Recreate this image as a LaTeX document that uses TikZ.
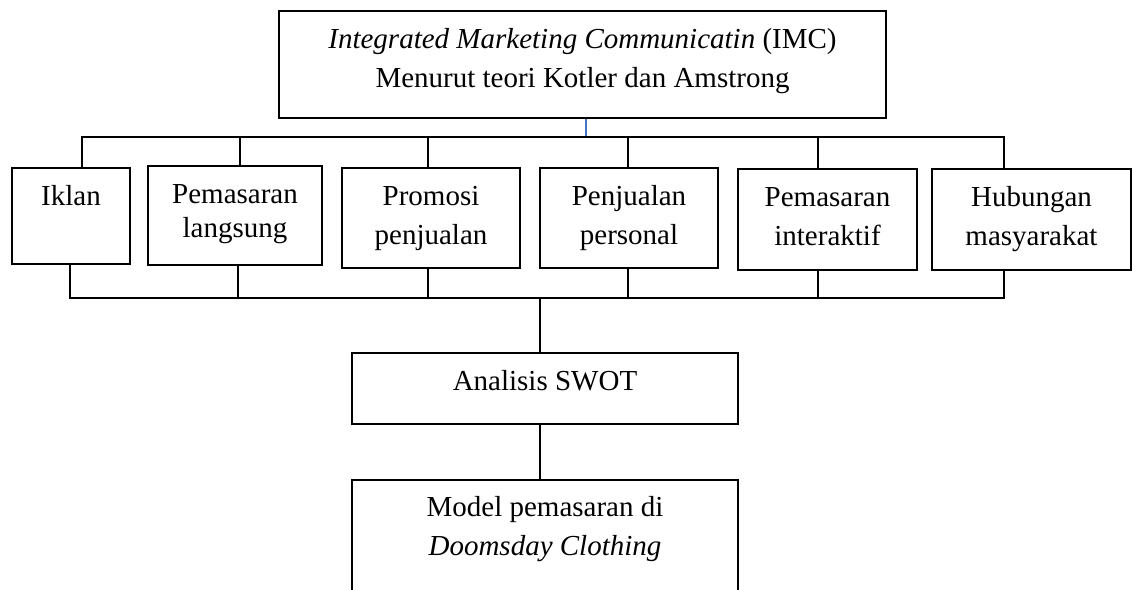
\documentclass[tikz,border=0pt]{standalone}
\usepackage{fontspec}
\setmainfont{Liberation Serif}
\usepackage{tikz}
\usetikzlibrary{positioning}
\definecolor{tapblue}{RGB}{68,114,196}

% text set at the top of a fixed-size box
\newcommand{\boxlabel}[3]{\parbox[c][#2][t]{#1}{\centering\rule{0pt}{37pt}#3}}

\begin{document}
\begin{tikzpicture}[
    x=1pt, y=-1pt,
    font={\fontsize{29}{39}\selectfont},
    stage/.style={draw, line width=1.8pt, inner sep=0pt},
    link/.style={line width=1.8pt},
]
    \useasboundingbox (0,0) rectangle (1132,589);
    \clip (0,0) rectangle (1132,589);

    % Concepts
    \node[stage] (imc) at (582.5,64.5) {\boxlabel{607pt}{107pt}{\textit{Integrated Marketing Communicatin} (IMC)\\ Menurut teori Kotler dan Amstrong}};

    \node[stage] (iklan)      at (71,216)     {\boxlabel{118pt}{96pt}{Iklan}};
    \node[stage] (langsung)   at (235,215.5)  {\boxlabel{174pt}{99pt}{Pemasaran\\[-5pt] langsung}};
    \node[stage] (promosi)    at (431,218)    {\boxlabel{178pt}{100pt}{Promosi\\ penjualan}};
    \node[stage] (personal)   at (629,218)    {\boxlabel{178pt}{100pt}{Penjualan\\ personal}};
    \node[stage] (interaktif) at (827.5,219.5){\boxlabel{179pt}{101pt}{Pemasaran\\ interaktif}};
    \node[stage] (humas)      at (1031.5,219.5){\boxlabel{199pt}{101pt}{Hubungan\\ masyarakat}};

    \node[stage] (swot)  at (545,388.5) {\boxlabel{386pt}{71pt}{Analisis SWOT}};
    \node[stage, anchor=north] (model) at (545,479) {\boxlabel{386pt}{150pt}{Model pemasaran di\\ \textit{Doomsday Clothing}}};

    % Buses
    \coordinate (topbus) at (0,137);
    \coordinate (lowbus) at (0,298);

    % Concept relations
    \draw[tapblue, line width=1.2pt] ([xshift=3.5pt]imc.south) -- ([xshift=3.5pt]imc.south |- topbus);
    \draw[link] ([xshift=11pt]iklan.north) |- ([xshift=-27.5pt]humas.north |- topbus) -- ([xshift=-27.5pt]humas.north);
    \draw[link] ([xshift=5pt]langsung.north) -- ([xshift=5pt]langsung.north |- topbus);
    \draw[link] ([xshift=-3pt]promosi.north) -- ([xshift=-3pt]promosi.north |- topbus);
    \draw[link] ([xshift=-1pt]personal.north) -- ([xshift=-1pt]personal.north |- topbus);
    \draw[link] ([xshift=-9.5pt]interaktif.north) -- ([xshift=-9.5pt]interaktif.north |- topbus);

    \draw[link] ([xshift=-1pt]iklan.south) |- ([xshift=-27.5pt]humas.south |- lowbus) -- ([xshift=-27.5pt]humas.south);
    \draw[link] ([xshift=3pt]langsung.south) -- ([xshift=3pt]langsung.south |- lowbus);
    \draw[link] ([xshift=-3pt]promosi.south) -- ([xshift=-3pt]promosi.south |- lowbus);
    \draw[link] ([xshift=-1pt]personal.south) -- ([xshift=-1pt]personal.south |- lowbus);
    \draw[link] ([xshift=-9.5pt]interaktif.south) -- ([xshift=-9.5pt]interaktif.south |- lowbus);

    \draw[link] ([xshift=-5pt]swot.north) -- ([xshift=-5pt]swot.north |- lowbus);
    \draw[link] ([xshift=-5pt]swot.south) -- ([xshift=-5pt]model.north);

\end{tikzpicture}
\end{document}
